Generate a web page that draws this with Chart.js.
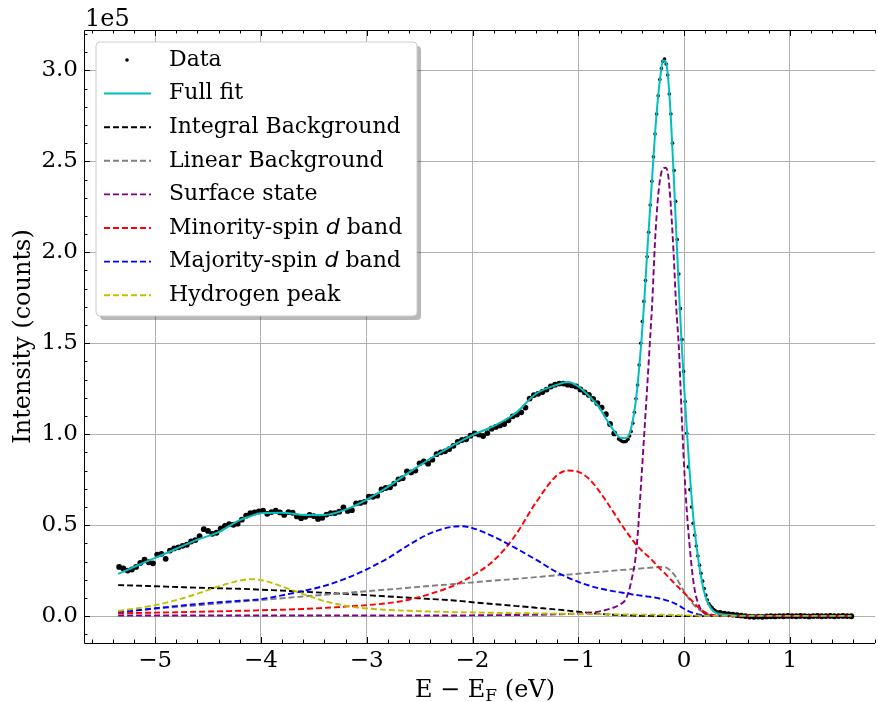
<!DOCTYPE html>
<html>
<head>
<meta charset="utf-8">
<script src="https://cdn.jsdelivr.net/npm/chart.js@4.4.1/dist/chart.umd.min.js"></script>
<style>
  html, body { margin: 0; padding: 0; background: #fff; }
  #wrap { width: 878px; height: 702px; }
</style>
</head>
<body>
<div id="wrap"><canvas id="spectrum" width="878" height="702"></canvas></div>
<script>
// measured spectrum, intensity in units of 1e5 counts
const dataEnergy = [
  -5.34,-5.30,-5.26,-5.22,-5.18,-5.14,-5.10,-5.06,-5.02,-4.98,
  -4.94,-4.90,-4.86,-4.82,-4.78,-4.74,-4.70,-4.66,-4.62,-4.58,
  -4.54,-4.50,-4.46,-4.42,-4.38,-4.34,-4.30,-4.26,-4.22,-4.18,
  -4.14,-4.10,-4.06,-4.02,-3.98,-3.94,-3.90,-3.86,-3.82,-3.78,
  -3.74,-3.70,-3.66,-3.62,-3.58,-3.54,-3.50,-3.46,-3.42,-3.38,
  -3.34,-3.30,-3.26,-3.22,-3.18,-3.14,-3.10,-3.06,-3.02,-2.98,
  -2.94,-2.90,-2.86,-2.82,-2.78,-2.74,-2.70,-2.66,-2.62,-2.58,
  -2.54,-2.50,-2.46,-2.42,-2.38,-2.34,-2.30,-2.26,-2.22,-2.18,
  -2.14,-2.10,-2.06,-2.02,-1.98,-1.94,-1.90,-1.86,-1.82,-1.78,
  -1.74,-1.70,-1.66,-1.62,-1.58,-1.54,-1.50,-1.46,-1.42,-1.38,
  -1.34,-1.30,-1.26,-1.22,-1.18,-1.14,-1.10,-1.06,-1.02,-0.98,
  -0.94,-0.90,-0.86,-0.82,-0.78,-0.74,-0.70,-0.66,-0.62,
  -0.605,-0.590,-0.575,-0.560,-0.545,-0.530,-0.515,-0.500,-0.485,-0.470,
  -0.455,-0.440,-0.425,-0.410,-0.395,-0.380,-0.365,-0.350,-0.335,-0.320,
  -0.305,-0.290,-0.275,-0.260,-0.245,-0.230,-0.215,-0.200,-0.185,-0.170,
  -0.155,-0.140,-0.125,-0.110,-0.095,-0.080,-0.065,-0.050,-0.035,-0.020,
  -0.005,0.010,0.025,0.040,0.055,0.070,0.085,0.100,0.115,0.130,
  0.145,0.160,0.175,0.190,0.205,0.220,0.235,0.250,0.265,0.280,
  0.295,0.310,
  0.34,0.38,0.42,0.46,0.50,0.54,0.58,0.62,0.66,0.70,
  0.74,0.78,0.82,0.86,0.90,0.94,0.98,1.02,1.06,1.10,
  1.14,1.18,1.22,1.26,1.30,1.34,1.38,1.42,1.46,1.50,
  1.54,1.58
];
const dataCounts = [
  0.270,0.262,0.250,0.256,0.270,0.292,0.310,0.296,0.290,0.338,
  0.342,0.315,0.360,0.372,0.378,0.386,0.392,0.410,0.418,0.440,
  0.478,0.468,0.452,0.458,0.480,0.496,0.506,0.502,0.508,0.530,
  0.552,0.566,0.570,0.575,0.580,0.562,0.572,0.580,0.570,0.556,
  0.572,0.568,0.548,0.538,0.546,0.556,0.550,0.534,0.540,0.558,
  0.566,0.566,0.574,0.598,0.578,0.582,0.620,0.622,0.628,0.656,
  0.656,0.662,0.696,0.704,0.708,0.728,0.752,0.758,0.796,0.790,
  0.800,0.840,0.850,0.838,0.860,0.890,0.900,0.906,0.918,0.936,
  0.958,0.968,0.972,0.992,1.004,0.998,0.990,1.006,1.030,1.040,
  1.048,1.056,1.076,1.098,1.108,1.120,1.146,1.196,1.215,1.222,
  1.232,1.245,1.262,1.272,1.278,1.278,1.272,1.268,1.262,1.246,
  1.230,1.216,1.194,1.170,1.146,1.110,1.056,1.004,0.974,
  0.968,0.962,0.958,0.958,0.962,0.972,0.990,1.015,1.060,1.120,
  1.195,1.270,1.380,1.500,1.620,1.730,1.845,1.975,2.110,2.260,
  2.390,2.525,2.650,2.760,2.860,2.950,3.010,3.050,3.062,3.035,
  2.975,2.870,2.760,2.600,2.450,2.280,2.070,1.880,1.690,1.520,
  1.345,1.180,1.005,0.820,0.695,0.600,0.510,0.445,0.385,0.330,
  0.280,0.235,0.192,0.152,0.115,0.088,0.068,0.055,0.045,0.036,
  0.029,0.024,
  0.018,0.014,0.010,0.008,0.005,0.003,0.000,-0.003,-0.004,-0.003,
  -0.004,-0.002,-0.001,-0.002,0.000,-0.001,0.001,0.000,-0.001,0.001,
  0.000,-0.002,0.000,0.001,-0.001,0.000,0.001,-0.001,0.000,0.001,
  0.000,-0.001
];

// fitted model and its components on one energy grid
const fitEnergy = [
  -5.35,-5.2,-5.0,-4.8,-4.6,-4.4,-4.2,-4.1,-4.0,-3.8,
  -3.6,-3.4,-3.2,-3.0,-2.8,-2.6,-2.4,-2.2,-2.1,-2.0,
  -1.8,-1.6,-1.4,-1.2,-1.1,-1.0,-0.9,-0.8,-0.7,-0.6,
  -0.55,-0.5,-0.45,-0.4,-0.375,-0.35,-0.325,-0.3,-0.275,-0.25,
  -0.225,-0.2,-0.175,-0.15,-0.125,-0.1,-0.075,-0.05,-0.025,0,
  0.025,0.05,0.075,0.1,0.15,0.2,0.25,0.3,0.4,0.6,
  0.8,1.0,1.2,1.4,1.58
];
const fullFit = [
  0.232,0.270,0.320,0.370,0.420,0.462,0.528,0.548,0.566,0.568,
  0.556,0.556,0.585,0.640,0.710,0.790,0.865,0.935,0.965,0.995,
  1.045,1.112,1.222,1.272,1.287,1.262,1.210,1.145,1.050,0.980,
  0.978,1.035,1.215,1.540,1.745,1.990,2.210,2.430,2.650,2.830,
  2.965,3.055,3.050,2.950,2.735,2.440,2.120,1.800,1.520,1.260,
  1.030,0.810,0.620,0.470,0.250,0.110,0.045,0.018,0.008,0.002,
  0.001,0,0,0,0
];
const integralBg = [
  0.170,0.168,0.164,0.160,0.156,0.153,0.150,0.148,0.145,0.140,
  0.134,0.128,0.122,0.115,0.108,0.101,0.094,0.087,0.082,0.076,
  0.066,0.056,0.046,0.036,0.030,0.024,0.018,0.012,0.008,0.005,
  0.004,0.003,0.002,0.001,0.001,0.001,0.001,0.001,0,0,
  0,0,0,0,0,0,0,0,0,0,
  0,0,0,0,0,0,0,0,0,0,
  0,0,0,0,0
];
const linearBg = [
  0.023,0.030,0.040,0.050,0.059,0.069,0.079,0.084,0.088,0.098,
  0.108,0.117,0.127,0.137,0.146,0.156,0.166,0.175,0.180,0.185,
  0.195,0.204,0.214,0.224,0.228,0.233,0.238,0.243,0.248,0.253,
  0.255,0.258,0.260,0.262,0.264,0.265,0.266,0.267,0.268,0.269,
  0.270,0.270,0.268,0.260,0.248,0.232,0.212,0.186,0.160,0.135,
  0.112,0.092,0.072,0.056,0.032,0.015,0.006,0.002,0,0,
  0,0,0,0,0
];
const surfaceState = [
  0.003,0.003,0.003,0.003,0.003,0.003,0.003,0.003,0.003,0.003,
  0.003,0.003,0.003,0.003,0.003,0.003,0.003,0.003,0.003,0.004,
  0.005,0.006,0.007,0.010,0.012,0.014,0.018,0.026,0.040,0.066,
  0.095,0.190,0.370,0.790,1.020,1.250,1.490,1.740,2.060,2.280,
  2.410,2.460,2.465,2.420,2.250,2.000,1.700,1.480,1.130,0.820,
  0.580,0.400,0.250,0.143,0.045,0.012,0.004,0.001,0,0,
  0,0,0,0,0
];
const minoritySpin = [
  0.015,0.017,0.019,0.021,0.024,0.026,0.029,0.030,0.032,0.035,
  0.039,0.045,0.052,0.060,0.071,0.090,0.122,0.162,0.190,0.222,
  0.305,0.440,0.625,0.775,0.800,0.793,0.755,0.685,0.600,0.510,
  0.468,0.428,0.390,0.360,0.346,0.333,0.320,0.305,0.290,0.274,
  0.258,0.245,0.231,0.216,0.200,0.185,0.170,0.156,0.140,0.127,
  0.113,0.098,0.083,0.067,0.040,0.021,0.009,0.003,0,0,
  0,0,0,0,0
];
const majoritySpin = [
  0.023,0.030,0.043,0.055,0.066,0.076,0.084,0.088,0.093,0.114,
  0.138,0.166,0.206,0.257,0.318,0.392,0.455,0.490,0.494,0.484,
  0.436,0.376,0.310,0.240,0.212,0.188,0.168,0.152,0.140,0.130,
  0.125,0.120,0.116,0.112,0.110,0.108,0.106,0.104,0.102,0.099,
  0.096,0.092,0.088,0.084,0.079,0.073,0.066,0.058,0.049,0.040,
  0.032,0.025,0.019,0.014,0.007,0.004,0.002,0.001,0,0,
  0,0,0,0,0
];
const hydrogenPeak = [
  0.028,0.040,0.060,0.088,0.123,0.163,0.195,0.203,0.198,0.163,
  0.121,0.083,0.057,0.042,0.034,0.029,0.025,0.022,0.021,0.020,
  0.018,0.016,0.015,0.013,0.0125,0.012,0.011,0.011,0.010,0.009,
  0.009,0.009,0.008,0.008,0.008,0.008,0.008,0.008,0.008,0.008,
  0.008,0.008,0.007,0.007,0.007,0.006,0.006,0.006,0.005,0.005,
  0.004,0.004,0.003,0.003,0.002,0.002,0.001,0.001,0.001,0.001,
  0.001,0.001,0.001,0.001,0.001
];

const xTicks = [-5, -4, -3, -2, -1, 0, 1];
const yTicks = [0, 0.5, 1.0, 1.5, 2.0, 2.5, 3.0];

const SERIF = '"DejaVu Serif", serif';
const SANS = '"DejaVu Sans", sans-serif';
const DASH = [6, 3];

const toPoints = (xs, ys) => xs.map((x, i) => ({ x: x, y: ys[i] }));

function component(label, values, color, order) {
  return {
    label: label,
    data: toPoints(fitEnergy, values),
    borderColor: color,
    backgroundColor: color,
    borderWidth: 1.9,
    borderDash: DASH,
    pointRadius: 0,
    cubicInterpolationMode: 'monotone',
    fill: false,
    order: order
  };
}

function roundRectPath(ctx, x, y, w, h, r) {
  ctx.beginPath();
  ctx.moveTo(x + r, y);
  ctx.lineTo(x + w - r, y);
  ctx.arcTo(x + w, y, x + w, y + r, r);
  ctx.lineTo(x + w, y + h - r);
  ctx.arcTo(x + w, y + h, x + w - r, y + h, r);
  ctx.lineTo(x + r, y + h);
  ctx.arcTo(x, y + h, x, y + h - r, r);
  ctx.lineTo(x, y + r);
  ctx.arcTo(x, y, x + r, y, r);
  ctx.closePath();
}

// label text with $...$ pieces set in italic, like mathtext
function drawRichText(ctx, text, x, y, size) {
  const parts = text.split('$');
  let cx = x;
  parts.forEach((p, i) => {
    if (!p) return;
    ctx.font = (i % 2 ? 'italic ' + size + 'px ' + SANS : size + 'px ' + SERIF);
    ctx.fillText(p, cx, y);
    cx += ctx.measureText(p).width;
  });
}

// spines, inward ticks, offset text, axis labels and legend
const decorations = {
  id: 'decorations',
  afterDatasetsDraw(chart) {
    const ctx = chart.ctx;
    const a = chart.chartArea;
    const xs = chart.scales.x, ys = chart.scales.y;
    ctx.save();
    ctx.strokeStyle = '#000';
    ctx.lineWidth = 1;
    ctx.beginPath();
    ctx.moveTo(a.left + 0.5, a.top + 0.5);
    ctx.lineTo(a.left + 0.5, a.bottom + 0.5);
    ctx.lineTo(a.right, a.bottom + 0.5);
    ctx.moveTo(a.left + 0.5, a.top + 0.5);
    ctx.lineTo(a.right, a.top + 0.5);
    ctx.stroke();

    ctx.beginPath();
    for (let v = -5.6; v <= 1.81; v += 0.2) {
      const px = Math.round(xs.getPixelForValue(v)) + 0.5;
      const major = Math.abs(v - Math.round(v)) < 1e-6;
      const len = major ? 6 : 3.5;
      ctx.moveTo(px, a.bottom); ctx.lineTo(px, a.bottom - len);
      ctx.moveTo(px, a.top); ctx.lineTo(px, a.top + len);
    }
    for (let v = -0.1; v <= 3.21; v += 0.1) {
      const py = Math.round(ys.getPixelForValue(v)) + 0.5;
      const major = Math.abs(v * 2 - Math.round(v * 2)) < 1e-6;
      const len = major ? 6 : 3.5;
      ctx.moveTo(a.left, py); ctx.lineTo(a.left + len, py);
    }
    ctx.stroke();

    ctx.fillStyle = '#000';
    ctx.textBaseline = 'alphabetic';
    ctx.textAlign = 'left';
    ctx.font = '24px ' + SERIF;
    ctx.fillText('1e5', a.left + 1, 26);

    // x label: E − E_F (eV)
    const size = 24, sub = 17;
    ctx.font = size + 'px ' + SERIF;
    const p1 = 'E \u2212 E', p3 = ' (eV)';
    const w1 = ctx.measureText(p1).width, w3 = ctx.measureText(p3).width;
    ctx.font = sub + 'px ' + SERIF;
    const w2 = ctx.measureText('F').width;
    let x0 = 485 - (w1 + w2 + w3) / 2;
    const base = 697;
    ctx.font = size + 'px ' + SERIF;
    ctx.fillText(p1, x0, base);
    ctx.font = sub + 'px ' + SERIF;
    ctx.fillText('F', x0 + w1, base + 4);
    ctx.font = size + 'px ' + SERIF;
    ctx.fillText(p3, x0 + w1 + w2, base);

    // y label
    ctx.save();
    ctx.translate(30, (a.top + a.bottom) / 2);
    ctx.rotate(-Math.PI / 2);
    ctx.textAlign = 'center';
    ctx.fillText('Intensity (counts)', 0, 0);
    ctx.restore();

    // legend
    const bx = 96, by = 42, bw = 321, bh = 274;
    roundRectPath(ctx, bx + 4, by + 4, bw, bh, 4);
    ctx.fillStyle = 'rgba(0,0,0,0.28)';
    ctx.fill();
    roundRectPath(ctx, bx, by, bw, bh, 4);
    ctx.fillStyle = '#fff';
    ctx.fill();
    ctx.strokeStyle = '#cccccc';
    ctx.lineWidth = 1;
    ctx.stroke();

    ctx.textBaseline = 'middle';
    chart.data.datasets.forEach((ds, i) => {
      const y = 60 + i * 33.6;
      if (ds.showLine === false) {
        ctx.beginPath();
        ctx.arc(127, y, 1.8, 0, Math.PI * 2);
        ctx.fillStyle = '#000';
        ctx.fill();
      } else {
        ctx.beginPath();
        ctx.setLineDash(ds.borderDash || []);
        ctx.strokeStyle = ds.borderColor;
        ctx.lineWidth = ds.borderWidth;
        ctx.moveTo(104, y);
        ctx.lineTo(151, y);
        ctx.stroke();
        ctx.setLineDash([]);
      }
      ctx.fillStyle = '#000';
      drawRichText(ctx, ds.label, 169, y, 22);
    });
    ctx.restore();
  }
};

new Chart(document.getElementById('spectrum'), {
  type: 'line',
  data: {
    datasets: [
      {
        label: 'Data',
        data: toPoints(dataEnergy, dataCounts),
        showLine: false,
        // dense, noisy stretches read as a thick trace
        pointRadius: c => (c.raw && (c.raw.x < -0.62 || c.raw.x > 0.32) ? 2.9 : 1.8),
        pointHoverRadius: 0,
        pointBorderWidth: 0,
        pointBackgroundColor: '#000',
        borderColor: '#000',
        order: 8
      },
      {
        label: 'Full fit',
        data: toPoints(fitEnergy, fullFit),
        borderColor: '#00bfbf',
        borderWidth: 2,
        pointRadius: 0,
        cubicInterpolationMode: 'monotone',
        fill: false,
        order: 7
      },
      component('Integral Background', integralBg, '#000000', 6),
      component('Linear Background', linearBg, '#808080', 5),
      component('Surface state', surfaceState, '#800080', 4),
      component('Minority-spin $d$ band', minoritySpin, '#ff0000', 3),
      component('Majority-spin $d$ band', majoritySpin, '#0000ff', 2),
      component('Hydrogen peak', hydrogenPeak, '#bfbf00', 1)
    ]
  },
  options: {
    responsive: false,
    animation: false,
    devicePixelRatio: 1,
    events: [],
    layout: { padding: { top: 30, right: 0, left: 0, bottom: 0 } },
    plugins: { legend: { display: false }, tooltip: { enabled: false } },
    scales: {
      x: {
        type: 'linear',
        min: -5.672,
        max: 1.805,
        afterBuildTicks: s => { s.ticks = xTicks.map(v => ({ value: v })); },
        afterFit: s => { s.height = 59; },
        ticks: {
          callback: v => (v < 0 ? '\u2212' + Math.abs(v) : String(v)),
          font: { family: SERIF, size: 23 },
          color: '#000',
          padding: 4,
          maxRotation: 0,
          autoSkip: false
        },
        grid: { color: '#b0b0b0', lineWidth: 1, drawTicks: false },
        border: { display: false }
      },
      y: {
        type: 'linear',
        min: -0.148,
        max: 3.222,
        afterBuildTicks: s => { s.ticks = yTicks.map(v => ({ value: v })); },
        afterFit: s => { s.width = 84; },
        ticks: {
          callback: v => v.toFixed(1),
          font: { family: SERIF, size: 23 },
          color: '#000',
          padding: 6,
          autoSkip: false
        },
        grid: { color: '#b0b0b0', lineWidth: 1, drawTicks: false },
        border: { display: false }
      }
    }
  },
  plugins: [decorations]
});
</script>
</body>
</html>
